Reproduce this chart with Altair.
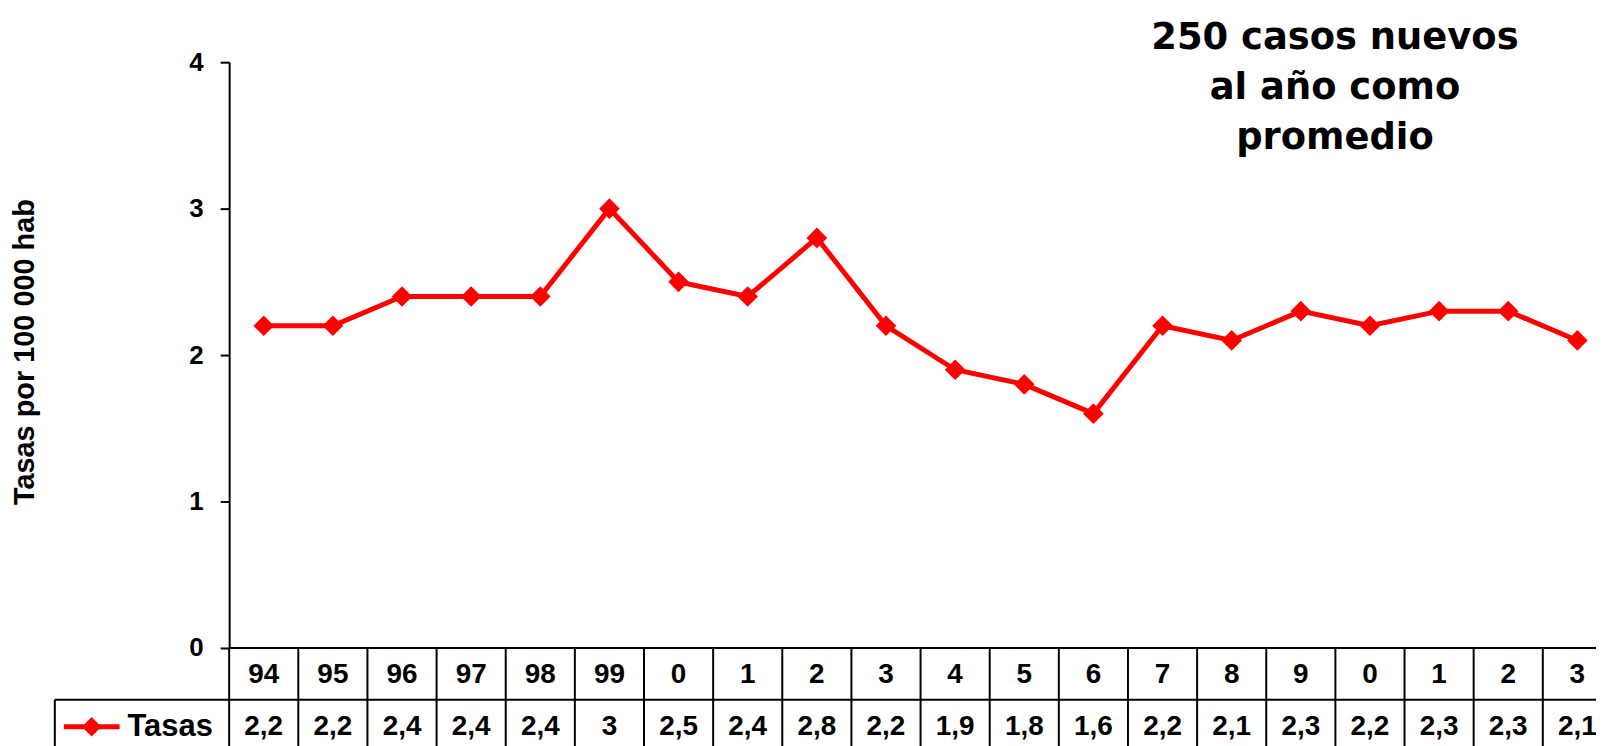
import altair as alt
import pandas as pd

# ---- data ----
years = ["94", "95", "96", "97", "98", "99", "0", "1", "2", "3",
         "4", "5", "6", "7", "8", "9", "0", "1", "2", "3"]
tasas = [2.2, 2.2, 2.4, 2.4, 2.4, 3.0, 2.5, 2.4, 2.8, 2.2,
         1.9, 1.8, 1.6, 2.2, 2.1, 2.3, 2.2, 2.3, 2.3, 2.1]
value_labels = ["2,2", "2,2", "2,4", "2,4", "2,4", "3", "2,5", "2,4", "2,8", "2,2",
                "1,9", "1,8", "1,6", "2,2", "2,1", "2,3", "2,2", "2,3", "2,3", "2,1"]
series_name = "Tasas"
y_title = "Tasas por 100 000 hab"
note_text = "250 casos nuevos\nal año como\npromedio"

n = len(years)
df = pd.DataFrame({"idx": list(range(n)), "year": years, "tasa": tasas, "lab": value_labels})
bounds = pd.DataFrame({"b": [i - 0.5 for i in range(n + 1)]})
one = pd.DataFrame({"k": [0]})

W, H = 1372, 588
COLW = 69.4  # column width; the last column runs off the page
RED = "#FF0000"
FONT = "Liberation Sans"

xs = alt.Scale(domain=[-0.5, -0.5 + W / COLW], nice=False, zero=False)
ys = alt.Scale(domain=[0, 4], nice=False)
yaxis = alt.Axis(values=[0, 1, 2, 3, 4], format="d", title=None, grid=False,
                 domainColor="black", domainWidth=2, tickColor="black",
                 tickWidth=2, tickSize=9, labelPadding=17,
                 labelFont=FONT, labelFontSize=26, labelFontWeight="bold",
                 labelColor="black")

X = lambda f: alt.X(f, scale=xs, axis=None)
Y = lambda f: alt.Y(f, scale=ys, axis=yaxis)

line = alt.Chart(df).mark_line(color=RED, strokeWidth=5).encode(
    x=X("idx:Q"), y=Y("tasa:Q")
)
pts = alt.Chart(df).mark_point(shape="diamond", filled=True, color=RED, size=430, opacity=1).encode(
    x=X("idx:Q"), y=Y("tasa:Q")
)

# table grid
vlines = alt.Chart(bounds).mark_rule(color="black", strokeWidth=2).encode(
    x=X("b:Q"), y=alt.value(H), y2=alt.value(H + 140)
)
hline_top = alt.Chart(one).mark_rule(color="black", strokeWidth=2).encode(
    x=alt.value(0), x2=alt.value(W + 20), y=alt.value(H)
)
hline_mid = alt.Chart(one).mark_rule(color="black", strokeWidth=2).encode(
    x=alt.value(-175), x2=alt.value(W + 20), y=alt.value(H + 52)
)
vline_left = alt.Chart(one).mark_rule(color="black", strokeWidth=2).encode(
    x=alt.value(-175), y=alt.value(H + 52), y2=alt.value(H + 140)
)

hdr = alt.Chart(df).mark_text(font=FONT, fontSize=28, fontWeight="bold", color="black",
                              baseline="middle", align="center").encode(
    x=X("idx:Q"), y=alt.value(H + 27), text="year:N"
)
vals = alt.Chart(df).mark_text(font=FONT, fontSize=28, fontWeight="bold", color="black",
                               baseline="middle", align="center").encode(
    x=X("idx:Q"), y=alt.value(H + 79), text="lab:N"
)

# legend key in the table
leg_line = alt.Chart(one).mark_rule(color=RED, strokeWidth=5).encode(
    x=alt.value(-166), x2=alt.value(-110), y=alt.value(H + 79)
)
leg_pt = alt.Chart(one).mark_point(shape="diamond", filled=True, color=RED, size=380, opacity=1).encode(
    x=alt.value(-138), y=alt.value(H + 79)
)
leg_txt = alt.Chart(one).mark_text(font=FONT, fontSize=31, fontWeight="bold", color="black",
                                   baseline="middle", align="left").encode(
    x=alt.value(-102), y=alt.value(H + 79), text=alt.value(series_name)
)

ytitle = alt.Chart(one).mark_text(font=FONT, fontSize=29, fontWeight="bold", color="black",
                                  baseline="middle", align="center", angle=270).encode(
    x=alt.value(-205), y=alt.value(291), text=alt.value(y_title)
)

note = alt.Chart(one).mark_text(font="DejaVu Sans", fontSize=37, fontWeight="bold", color="black",
                                align="center", baseline="alphabetic", lineBreak="\n",
                                lineHeight=50).encode(
    x=alt.value(1110), y=alt.value(-13), text=alt.value(note_text)
)

chart = alt.layer(
    vlines, hline_top, hline_mid, vline_left, line, pts, hdr, vals,
    leg_line, leg_pt, leg_txt, ytitle, note
).properties(
    width=W, height=H,
    autosize=alt.AutoSizeParams(type="none"),
    padding={"left": 222, "top": 53, "right": 0, "bottom": 97},
).configure_view(stroke=None)

chart.save("out.html", embed_options={"renderer": "svg", "actions": False})
